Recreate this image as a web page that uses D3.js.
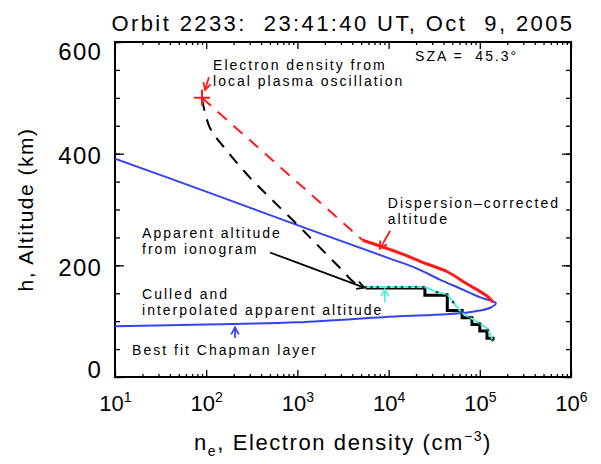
<!DOCTYPE html>
<html>
<head>
<meta charset="utf-8">
<script src="https://cdn.jsdelivr.net/npm/d3@7"></script>
<style>
  body { margin: 0; background: #fff; }
  svg { font-family: "Liberation Sans", Arial, sans-serif; }
  text { white-space: pre; }
</style>
</head>
<body>
<div id="chart"></div>
<script>
// tick values
const neTicks = [1e1, 1e2, 1e3, 1e4, 1e5, 1e6];
const altTicks = [0, 200, 400, 600];

// best fit Chapman layer (upper branch down to the nose, then lower branch)
const chapmanNe  = [10, 100, 1000, 1e4, 2e4, 3.6e4, 6e4, 1e5, 1.25e5, 1.5e5, 1.3e5, 1e5, 6e4, 3e4, 1.3e4, 1000, 100, 10];
const chapmanAlt = [391, 332, 272, 213, 195, 175, 159, 143, 138, 132, 124, 119, 114, 111, 109, 98, 94, 91];

// local plasma oscillation point
const plasmaNe = 90;
const plasmaAlt = 500;

// dispersion-corrected altitude (red, solid part)
const correctedNe  = [5.2e3, 1.33e4, 2.4e4, 4.35e4, 7.2e4, 1.2e5, 1.4e5];
const correctedAlt = [245, 222, 205, 189, 167, 145, 134];

// apparent altitude extrapolation (black dashed)
const apparentExtNe  = [90, 110, 169, 302, 537, 1070, 1600, 2900, 4300, 5400];
const apparentExtAlt = [498, 446, 405, 357, 316, 268, 239, 196, 168, 161];

// apparent altitude from ionogram (black stairs)
const ionogramNe  = [5.6e3, 2.5e4, 4.4e4, 6.4e4, 8.2e4, 1.0e5, 1.2e5, 1.4e5];
const ionogramAlt = [161, 148, 121, 108, 96, 84, 71, 68];

// culled and interpolated apparent altitude (cyan)
const culledNe  = [5.6e3, 6.5e3, 7.6e3, 1.0e4, 1.2e4, 1.4e4, 1.7e4, 2.0e4, 2.4e4, 3.4e4, 4.35e4, 5.1e4, 6.3e4, 7.7e4, 1.0e5, 1.23e5, 1.38e5];
const culledAlt = [161, 161, 161, 161, 161, 161, 161, 161, 161, 152, 148, 134, 116, 107, 96, 84, 66];

// annotations (data coordinates of first line)
const labels = [
  { ne: 119, alt: 558, lines: ["Electron density from", "local plasma oscillation"] },
  { ne: 1.95e4, alt: 575, lines: ["SZA =  45.3\u00b0"] },
  { ne: 9.8e3, alt: 312, lines: ["Dispersion\u2013corrected", "altitude"] },
  { ne: 19.8, alt: 258, lines: ["Apparent altitude", "from ionogram"] },
  { ne: 19.8, alt: 149, lines: ["Culled and", "interpolated apparent altitude"] },
  { ne: 15.4, alt: 48, lines: ["Best fit Chapman layer"] }
];
const arrows = [
  { ne0: 107, alt0: 537, ne1: 97, alt1: 514, color: "#ff1a1a" },
  { ne0: 1.04e4, alt0: 262, ne1: 8.05e3, alt1: 230, color: "#ff1a1a" },
  { ne0: 501, alt0: 223, ne1: 5.4e3, alt1: 160, color: "#000" },
  { ne0: 9.1e3, alt0: 134, ne1: 9.1e3, alt1: 157, color: "#55eedd" },
  { ne0: 207, alt0: 70, ne1: 207, alt1: 89, color: "#3344ee" }
];

const width = 601, height = 464;
const margin = { left: 115, right: 30, top: 42, bottom: 87 };

const svg = d3.select("#chart").append("svg")
  .attr("width", width)
  .attr("height", height);

const x = d3.scaleLog().domain([1e1, 1e6]).range([margin.left, width - margin.right]);
const y = d3.scaleLinear().domain([0, 600]).range([height - margin.bottom, margin.top]);

const x0 = x.range()[0], x1 = x.range()[1];
const y0 = y.range()[0], y1 = y.range()[1];

// title
svg.append("text")
  .attr("x", (x0 + x1) / 2)
  .attr("y", 31)
  .attr("text-anchor", "middle")
  .attr("font-size", 22)
  .attr("letter-spacing", 2.4)
  .text("Orbit 2233:  23:41:40 UT, Oct  9, 2005");

// minor ticks
const minorNe = [];
for (let d = 1; d < 6; d++) for (let k = 2; k <= 9; k++) minorNe.push(k * Math.pow(10, d));
const minorAlt = d3.range(0, 601, 50);

function noText(g) { g.selectAll("text").remove(); g.select(".domain").remove(); }

svg.append("g").attr("transform", `translate(0,${y0})`)
  .call(d3.axisBottom(x).tickValues(minorNe).tickSize(-3)).call(noText);
svg.append("g").attr("transform", `translate(0,${y1})`)
  .call(d3.axisTop(x).tickValues(minorNe).tickSize(-3)).call(noText);
svg.append("g").attr("transform", `translate(0,${y1})`)
  .call(d3.axisTop(x).tickValues(neTicks).tickSize(-7)).call(noText);
svg.append("g").attr("transform", `translate(${x0},0)`)
  .call(d3.axisLeft(y).tickValues(minorAlt).tickSize(-5)).call(noText);
svg.append("g").attr("transform", `translate(${x1},0)`)
  .call(d3.axisRight(y).tickValues(minorAlt).tickSize(-5)).call(noText);
svg.append("g").attr("transform", `translate(${x1},0)`)
  .call(d3.axisRight(y).tickValues(altTicks).tickSize(-9)).call(noText);

// bottom axis with 10^n labels
const xAxis = svg.append("g").attr("transform", `translate(0,${y0})`)
  .call(d3.axisBottom(x).tickValues(neTicks).tickSize(-7).tickFormat(() => ""));
xAxis.select(".domain").remove();
xAxis.selectAll(".tick text")
  .attr("font-size", 22)
  .attr("font-family", "Liberation Sans, Arial, sans-serif")
  .attr("fill", "#000")
  .attr("dy", 0)
  .attr("y", 34)
  .each(function(d) {
    const t = d3.select(this);
    t.append("tspan").text("10");
    t.append("tspan").attr("dy", -9).attr("font-size", 14).text(Math.round(Math.log10(d)));
  });

// left axis
const yAxis = svg.append("g").attr("transform", `translate(${x0},0)`)
  .call(d3.axisLeft(y).tickValues(altTicks).tickSize(-9).tickPadding(13).tickFormat(d3.format("d")));
yAxis.select(".domain").remove();
yAxis.selectAll(".tick text")
  .attr("font-size", 24)
  .attr("letter-spacing", 1.2)
  .attr("font-family", "Liberation Sans, Arial, sans-serif")
  .attr("fill", "#000")
  .attr("dy", d => d === 600 ? "0.73em" : d === 0 ? "0em" : "0.42em");
svg.selectAll(".tick line").attr("stroke", "#000").attr("stroke-width", 1.3);

// frame
svg.append("rect")
  .attr("x", x0).attr("y", y1)
  .attr("width", x1 - x0).attr("height", y0 - y1)
  .attr("fill", "none").attr("stroke", "#000").attr("stroke-width", 2);

// axis titles
const xt = svg.append("text")
  .attr("x", (x0 + x1) / 2)
  .attr("y", 450)
  .attr("text-anchor", "middle")
  .attr("letter-spacing", 1.6)
  .attr("font-size", 22);
xt.append("tspan").text("n");
xt.append("tspan").attr("dy", 6).attr("font-size", 14).text("e");
xt.append("tspan").attr("dy", -6).text(", Electron density (cm");
xt.append("tspan").attr("dy", -9).attr("font-size", 14).text("\u22123");
xt.append("tspan").attr("dy", 9).text(")");

svg.append("text")
  .attr("transform", `translate(33,${(y0 + y1) / 2}) rotate(-90)`)
  .attr("text-anchor", "middle")
  .attr("font-size", 21)
  .attr("letter-spacing", 1.5)
  .text("h, Altitude (km)");

const plot = svg.append("g");
svg.append("clipPath").attr("id", "clip").append("rect")
  .attr("x", x0).attr("y", y1).attr("width", x1 - x0).attr("height", y0 - y1);
plot.attr("clip-path", "url(#clip)");

const pts = (ne, alt) => ne.map((n, i) => [x(n), y(alt[i])]);

// Chapman layer
plot.append("path")
  .attr("d", d3.line().curve(d3.curveCatmullRom.alpha(0.5))(pts(chapmanNe, chapmanAlt)))
  .attr("fill", "none").attr("stroke", "#3344ee").attr("stroke-width", 2);

// dashed extrapolations
plot.append("path")
  .attr("d", d3.line()([[x(plasmaNe), y(plasmaAlt)], [x(correctedNe[0]), y(correctedAlt[0])]]))
  .attr("fill", "none").attr("stroke", "#ff1a1a").attr("stroke-width", 2)
  .attr("stroke-dasharray", "12,9");
plot.append("path")
  .attr("d", d3.line().curve(d3.curveCatmullRom.alpha(0.5))(pts(apparentExtNe, apparentExtAlt)))
  .attr("fill", "none").attr("stroke", "#000").attr("stroke-width", 2)
  .attr("stroke-dasharray", "12,9");

// ionogram stairs
plot.append("path")
  .attr("d", d3.line().curve(d3.curveStepAfter)(pts(ionogramNe, ionogramAlt).map(p => [p[0], p[1] + 1])))
  .attr("fill", "none").attr("stroke", "#000").attr("stroke-width", 3);

// culled line
plot.append("path")
  .attr("d", d3.line().curve(d3.curveMonotoneX)(pts(culledNe, culledAlt)))
  .attr("fill", "none").attr("stroke", "#55eedd").attr("stroke-width", 2);
plot.selectAll(".cdot").data(pts(culledNe, culledAlt)).join("circle")
  .attr("cx", d => d[0]).attr("cy", d => d[1]).attr("r", 1.4).attr("fill", "#1f5050");

// corrected altitude
plot.append("path")
  .attr("d", d3.line().curve(d3.curveCatmullRom.alpha(0.5))(pts(correctedNe, correctedAlt)))
  .attr("fill", "none").attr("stroke", "#ff1a1a").attr("stroke-width", 3);

// plus marker
const px = x(plasmaNe), py = y(plasmaAlt);
plot.append("path")
  .attr("d", `M${px - 8},${py}H${px + 8}M${px},${py - 8}V${py + 8}`)
  .attr("stroke", "#ff1a1a").attr("stroke-width", 2);

// labels (one text element per annotation, lines as tspans)
svg.selectAll(".lab").data(labels).join("text")
  .attr("class", "lab")
  .attr("x", d => x(d.ne)).attr("y", d => y(d.alt))
  .attr("font-size", 14)
  .attr("letter-spacing", 2)
  .each(function(d) {
    const t = d3.select(this);
    d.lines.forEach((s, i) => {
      t.append("tspan").attr("x", x(d.ne)).attr("dy", i === 0 ? "0.35em" : 16).text(s);
    });
  });

// arrows
arrows.forEach(a => {
  const ax0 = x(a.ne0), ay0 = y(a.alt0), ax1 = x(a.ne1), ay1 = y(a.alt1);
  const ang = Math.atan2(ay1 - ay0, ax1 - ax0);
  const hl = 8, hw = 0.5;
  const g = svg.append("g").attr("stroke", a.color).attr("stroke-width", 1.8).attr("fill", "none");
  g.append("path").attr("d", `M${ax0},${ay0}L${ax1},${ay1}`);
  g.append("path").attr("d",
    `M${ax1 - hl * Math.cos(ang - hw)},${ay1 - hl * Math.sin(ang - hw)}L${ax1},${ay1}L${ax1 - hl * Math.cos(ang + hw)},${ay1 - hl * Math.sin(ang + hw)}`);
});
</script>
</body>
</html>
